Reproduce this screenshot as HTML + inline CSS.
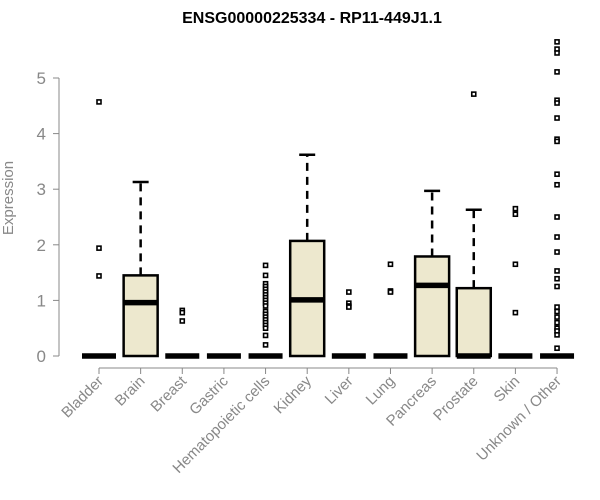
<!DOCTYPE html>
<html><head><meta charset="utf-8"><style>
body{margin:0;background:#fff;}
svg{display:block;font-family:"Liberation Sans",Arial,sans-serif;}
</style></head><body>
<svg id="chart" width="600" height="500" viewBox="0 0 600 500">
<text x="312" y="23" text-anchor="middle" font-weight="bold" font-size="16" fill="#000">ENSG00000225334 - RP11-449J1.1</text>
<text transform="translate(13,198) rotate(-90)" text-anchor="middle" font-size="15" fill="#888">Expression</text>
<g id="yaxis"></g>
<g id="xaxis"></g>
<g id="boxes"></g>
</svg>
<script>
const categories=["Bladder","Brain","Breast","Gastric","Hematopoietic cells","Kidney","Liver","Lung","Pancreas","Prostate","Skin","Unknown / Other"];
const q1=[0,0,0,0,0,0,0,0,0,0,0,0];
const medians=[0,0.96,0,0,0,1.01,0,0,1.27,0,0,0];
const q3=[0,1.45,0,0,0,2.07,0,0,1.79,1.22,0,0];
const whiskerLow=[0,0,0,0,0,0,0,0,0,0,0,0];
const whiskerHigh=[0,3.13,0,0,0,3.62,0,0,2.97,2.63,0,0];
const outliers=[
[4.57,1.94,1.44],
[],
[0.82,0.78,0.63],
[],
[1.63,1.45,1.3,1.25,1.2,1.15,1.1,1.05,1.0,0.95,0.9,0.8,0.75,0.7,0.65,0.6,0.55,0.5,0.37,0.2],
[],
[1.15,0.95,0.9,0.88],
[1.65,1.17,1.15],
[],
[4.71],
[2.65,2.55,1.65,0.78],
[5.65,5.52,5.45,5.11,4.6,4.55,4.28,3.9,3.86,3.27,3.08,2.5,2.14,1.87,1.53,1.39,1.25,0.88,0.8,0.7,0.6,0.5,0.45,0.38,0.14]
];
const yTicks=[0,1,2,3,4,5];
const NS="http://www.w3.org/2000/svg";
const y=v=>356-v*55.6;
const x=i=>99+i*41.64;
function mk(tag,attrs,parent){const e=document.createElementNS(NS,tag);for(const k in attrs)e.setAttribute(k,attrs[k]);parent.appendChild(e);return e;}
const ya=document.getElementById('yaxis'),xa=document.getElementById('xaxis'),bx=document.getElementById('boxes');
mk('line',{x1:59,x2:59,y1:y(0),y2:y(5),stroke:'#888','stroke-width':1},ya);
yTicks.forEach(t=>{
 const l=mk('line',{x1:53,x2:59,y1:y(t),y2:y(t),stroke:'#888'},ya);
 
 
 const tx=mk('text',{x:46,y:y(t)+6,'text-anchor':'end','font-size':17,fill:'#888'},ya);
 tx.textContent=t;
 
 
});
mk('line',{x1:x(0),x2:x(categories.length-1),y1:368,y2:368,stroke:'#888'},xa);
categories.forEach((c,i)=>{
 const l=mk('line',{x1:x(i),x2:x(i),y1:368,y2:374,stroke:'#888'},xa);
 
 
 const tx=mk('text',{transform:`translate(${x(i)+5},382) rotate(-45)`,'text-anchor':'end','font-size':15,fill:'#888'},xa);
 tx.textContent=c;
 
 
});
const hw=17;
categories.forEach((c,i)=>{
 const cx=x(i);
 const g=mk('g',{},bx);
 
 
 if(whiskerHigh[i]>q3[i]){
  mk('line',{x1:cx,x2:cx,y1:y(q3[i]),y2:y(whiskerHigh[i]),stroke:'#000','stroke-width':2.5,'stroke-dasharray':'8,6'},g);
  mk('line',{x1:cx-8,x2:cx+8,y1:y(whiskerHigh[i]),y2:y(whiskerHigh[i]),stroke:'#000','stroke-width':2.5},g);
 }
 if(q3[i]>q1[i]){
  mk('rect',{x:cx-hw,y:y(q3[i]),width:2*hw,height:y(q1[i])-y(q3[i]),fill:'#EDE8CE',stroke:'#000','stroke-width':2.5},g);
 }
 mk('line',{x1:cx-hw,x2:cx+hw,y1:y(medians[i]),y2:y(medians[i]),stroke:'#000','stroke-width':5.5},g);
 outliers[i].forEach(v=>{
  const r=mk('rect',{x:cx-2,y:y(v)-2,width:4,height:4,fill:'#fff',stroke:'#000','stroke-width':1.6},g);
  
  
 });
});
</script>
</body></html>
